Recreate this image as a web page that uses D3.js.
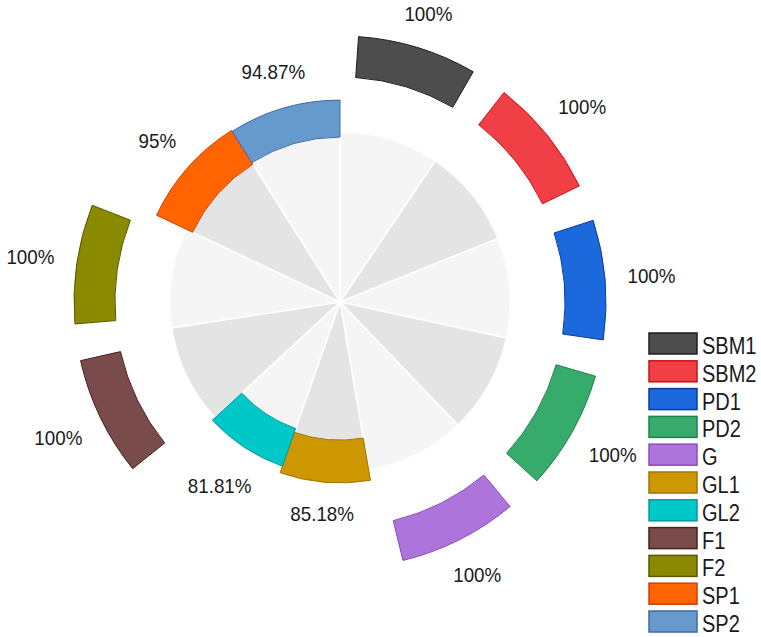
<!DOCTYPE html>
<html>
<head>
<meta charset="utf-8">
<script src="https://cdn.jsdelivr.net/npm/d3@7"></script>
<style>
  html, body { margin: 0; padding: 0; background: #ffffff; }
  svg { display: block; }
  text { font-family: "Liberation Sans", Arial, sans-serif; fill: #1a1a1a; }
</style>
</head>
<body>
<svg id="chart" width="761" height="637"></svg>
<script>
// ---------------- data ----------------
const categories = ["SBM1", "SBM2", "PD1", "PD2", "G", "GL1", "GL2", "F1", "F2", "SP1", "SP2"];
const percentValues = [100, 100, 100, 100, 100, 85.18, 81.81, 100, 100, 95, 94.87];
const percentLabels = ["100%", "100%", "100%", "100%", "100%", "85.18%", "81.81%", "100%", "100%", "95%", "94.87%"];
// radial extents (radial-axis units, 0..100)
const backgroundExtent = [64, 64, 64, 64, 64, 51.9, 50.4, 64, 64, 61.3, 62.0];
const barBase = [84.6, 84.6, 84.6, 84.6, 84.6, 51.9, 50.4, 84.6, 84.6, 61.3, 62.0];
const barTop = [100, 100, 100, 100, 100, 68.0, 65.4, 100, 100, 76.3, 75.9];
const fillColors = ["#4d4d4d", "#f03f45", "#1b69dc", "#36ab6b", "#ad75dc", "#cc9700", "#00c8c8", "#7a4b4b", "#8a8a00", "#ff6400", "#6699cc"];
const lineColors = ["#1e1e1e", "#c4141c", "#0a3c9c", "#1d8249", "#8a4cbf", "#a07600", "#009c9c", "#4a1e1e", "#585800", "#d04000", "#3d6aa6"];
const backgroundColors = ["#f5f5f5", "#e4e4e4"];

// ---------------- layout ----------------
const svg = d3.select("#chart");
const cx = 340, cy = 302;
const g = svg.append("g").attr("transform", `translate(${cx},${cy})`);

const r = d3.scaleLinear().domain([0, 100]).range([0, 266]);

const rows = categories.map((c, i) => ({
  cat: c, value: percentValues[i], label: percentLabels[i],
  bg: backgroundExtent[i], base: barBase[i], top: barTop[i],
  fill: fillColors[i], line: lineColors[i], i
}));

const pie = d3.pie().value(d => d.value).sort(null);
const slices = pie(rows);

// background wedges
const bgArc = d3.arc().innerRadius(0).outerRadius(d => r(d.data.bg));
g.append("g").selectAll("path").data(slices).join("path")
  .attr("d", bgArc)
  .attr("fill", d => backgroundColors[d.index % 2])
  .attr("stroke", "#ffffff")
  .attr("stroke-width", 1.5);

// coloured bars
const padRad = 4 * Math.PI / 180;
const barArc = d3.arc()
  .innerRadius(d => r(d.data.base))
  .outerRadius(d => r(d.data.top))
  .startAngle(d => d.startAngle + (d.data.value === 100 ? padRad : 0))
  .endAngle(d => d.endAngle - (d.data.value === 100 ? padRad : 0));
g.append("g").selectAll("path").data(slices).join("path")
  .attr("d", barArc)
  .attr("fill", d => d.data.fill)
  .attr("stroke", d => d.data.line)
  .attr("stroke-width", 1);

// percentage labels
const labelSize = 20, labelSX = 0.94;
const labelG = g.append("g");
slices.forEach(d => {
  const a = (d.startAngle + d.endAngle) / 2;
  const ux = Math.sin(a), uy = -Math.cos(a);
  const t = labelG.append("text")
    .attr("font-size", labelSize)
    .attr("text-anchor", "middle")
    .text(d.data.label);
  const w = t.node().getComputedTextLength() * labelSX;
  const h = labelSize * 0.72;
  const ext = Math.abs(ux) * w / 2 + Math.abs(uy) * h / 2;
  const R = r(d.data.top) + 22 + ext;
  const x = R * ux, y = R * uy + h / 2;
  t.attr("transform", `translate(${x},${y}) scale(${labelSX},1)`);
});

// legend
const legendX = 649, legendY = 333, rowH = 27.8, swW = 48, swH = 21;
const legendSize = 23, legendSX = 0.87;
const leg = svg.append("g");
rows.forEach((d, i) => {
  const y = legendY + i * rowH;
  leg.append("rect")
    .attr("x", legendX).attr("y", y)
    .attr("width", swW).attr("height", swH)
    .attr("fill", d.fill)
    .attr("stroke", d.line)
    .attr("stroke-width", 1.5);
  leg.append("text")
    .attr("font-size", legendSize)
    .attr("transform", `translate(${legendX + swW + 5},${y + swH}) scale(${legendSX},1)`)
    .text(d.cat);
});
</script>
</body>
</html>
